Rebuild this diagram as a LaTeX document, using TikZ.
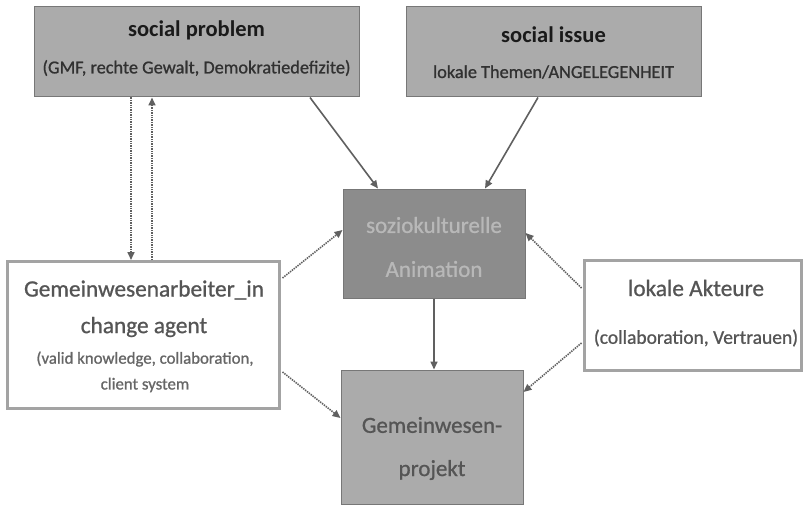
\documentclass[tikz,border=0pt]{standalone}
\usepackage{fontspec}
\setmainfont{Carlito}
\newfontfamily\medfont{Carlito}[FakeBold=0.9]
\usetikzlibrary{arrows.meta}
\definecolor{boxgray}{HTML}{ABABAB}
\definecolor{darkbox}{HTML}{8C8C8C}
\definecolor{edgegray}{HTML}{777777}
\definecolor{wedge}{HTML}{A3A3A3}
\definecolor{arrowgray}{HTML}{606060}
\definecolor{lighttext}{HTML}{B8B8B8}
\definecolor{midtext}{HTML}{555555}
\definecolor{darktext}{HTML}{1A1A1A}
\tikzset{
  graybox/.style={draw=edgegray, line width=1pt, fill=boxgray, inner sep=0pt},
  darkbox/.style={draw=edgegray, line width=1pt, fill=darkbox, inner sep=0pt},
  whitebox/.style={draw=wedge, line width=3pt, fill=white, inner sep=0pt},
  solidarrow/.style={draw=arrowgray, line width=1.6pt, -{Triangle[length=8pt,width=7pt]}},
  dotarrow/.style={draw=arrowgray, line width=1.6pt, dash pattern=on 1.4pt off 1pt, -{Triangle[length=8pt,width=7pt]}},
  titletxt/.style={font=\fontsize{22.5}{26}\selectfont\bfseries, text=darktext, inner sep=0pt},
  subtxt/.style={font=\fontsize{18.3}{21}\selectfont\medfont, text=darktext!90!white, inner sep=0pt},
  sztxt/.style={font=\fontsize{23}{27}\selectfont\medfont, text=lighttext, inner sep=0pt},
  gptxt/.style={font=\fontsize{23}{27}\selectfont\medfont, text=midtext, inner sep=0pt},
  gatxt/.style={font=\fontsize{23.3}{27}\selectfont\medfont, text=midtext, inner sep=0pt},
  gasub/.style={font=\fontsize{16.8}{20}\selectfont\medfont, text=midtext!90!white, inner sep=0pt},
  lasub/.style={font=\fontsize{19.5}{23}\selectfont\medfont, text=midtext, inner sep=0pt}
}
\begin{document}
\begin{tikzpicture}[x=1pt, y=-1pt]
\useasboundingbox (0,0) rectangle (805,505);
\fill[white] (0,0) rectangle (805,505);
% boxes
\node[graybox, minimum width=325pt, minimum height=90pt] (sp) at (196.5,52) {};
\node[graybox, minimum width=295pt, minimum height=90pt] (si) at (553.5,52) {};
\node[darkbox, minimum width=182pt, minimum height=109pt] (sa) at (434,243.5) {};
\node[whitebox, minimum width=272pt, minimum height=147pt] (ga) at (143.5,335) {};
\node[whitebox, minimum width=217pt, minimum height=110pt] (la) at (693,315.5) {};
\node[graybox, minimum width=182pt, minimum height=134pt] (gp) at (432,437) {};
% texts
\node[titletxt] (sp1) at (196.5,30) {social problem};
\node[subtxt] (sp2) at (196.5,68) {(GMF, rechte Gewalt, Demokratiedefizite)};
\node[titletxt] (si1) at (553.5,35) {social issue};
\node[subtxt] (si2) at (553.5,72) {lokale Themen/ANGELEGENHEIT};
\node[sztxt] (sa1) at (434,225) {soziokulturelle};
\node[sztxt] (sa2) at (434,269) {Animation};
\node[gptxt] (gp1) at (432,425) {Gemeinwesen-};
\node[gptxt] (gp2) at (432,470) {projekt};
\node[gatxt] (ga1) at (144,290) {Gemeinwesenarbeiter\_in};
\node[gatxt] (ga2) at (144,327) {change agent};
\node[gasub] (ga3) at (145,359) {(valid knowledge, collaboration,};
\node[gasub] (ga4) at (145,385) {client system};
\node[gatxt] (la1) at (696,288) {lokale Akteure};
\node[lasub] (la2) at (696,338) {(collaboration, Vertrauen)};
% connectors
\draw[dotarrow] ([xshift=-65.5pt]sp.south) -- ([xshift=-65.5pt]sp.south |- ga.north);
\draw[dotarrow] ([xshift=-44.5pt]sp.south |- ga.north) -- ([xshift=-44.5pt]sp.south);
\draw[solidarrow] ([xshift=113.5pt]sp.south) -- ([xshift=-56pt]sa.north);
\draw[solidarrow] ([xshift=-15.5pt]si.south) -- ([xshift=51pt]sa.north);
\draw[dotarrow] ([yshift=57pt,xshift=1.5pt]ga.east) -- ([yshift=13.5pt]sa.west);
\draw[dotarrow] ([yshift=-37pt,xshift=1.5pt]ga.east) -- ([yshift=19pt]gp.west);
\draw[dotarrow] ([yshift=27.5pt,xshift=-1.5pt]la.west) -- ([yshift=10.5pt]sa.east);
\draw[dotarrow] ([yshift=-27.5pt,xshift=-1.5pt]la.west) -- ([yshift=45pt]gp.east);
\draw[solidarrow] (sa.south) -- (sa.south |- gp.north);
\end{tikzpicture}
\end{document}
